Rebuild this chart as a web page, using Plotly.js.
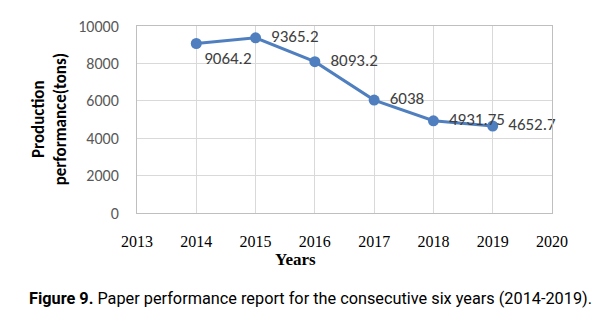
<!DOCTYPE html>
<html><head><meta charset="utf-8">
<script src="https://cdn.plot.ly/plotly-3.0.1.min.js"></script>
<style>body{margin:0;background:#fff}#chart{width:610px;height:325px}</style>
</head><body><div id="chart"></div>
<script>
const years = [2014, 2015, 2016, 2017, 2018, 2019];
const production = [9064.2, 9365.2, 8093.2, 6038, 4931.75, 4652.7];
const labelText = ['9064.2', '9365.2', '8093.2', '6038', '4931.75', '4652.7'];
const xTicks = [2013, 2014, 2015, 2016, 2017, 2018, 2019, 2020];
const yTicks = [0, 2000, 4000, 6000, 8000, 10000];

const trace = {
  x: years, y: production, type: 'scatter', mode: 'lines+markers+text',
  text: labelText,
  texttemplate: ['%{text}', '  %{text}', '  %{text}', '  %{text}', '  %{text}', '  %{text}'],
  textposition: ['bottom right','middle right','middle right','middle right','middle right','middle right'],
  textfont: {family: 'Carlito, Lato, Roboto, sans-serif', size: 17, color: '#404040'},
  line: {color: '#4f7fbf', width: 3},
  marker: {color: '#4f7fbf', size: 11},
  cliponaxis: false, hoverinfo: 'none'
};

const layout = {
  width: 610, height: 325,
  margin: {l: 137, r: 58, t: 26, b: 112},
  paper_bgcolor: '#fff', plot_bgcolor: '#fff',
  showlegend: false,
  xaxis: {
    range: [2013, 2020], tickvals: xTicks, ticktext: xTicks.map(String),
    showgrid: true, gridcolor: '#d9d9d9', gridwidth: 1,
    showline: true, linecolor: '#bfbfbf', linewidth: 1, mirror: true,
    zeroline: false, ticks: '', ticklabelstandoff: 14,
    tickfont: {family: '"Liberation Serif", "DejaVu Serif", serif', size: 16, color: '#000'}
  },
  yaxis: {
    range: [0, 10000], tickvals: yTicks, ticktext: yTicks.map(String),
    showgrid: true, gridcolor: '#d9d9d9', gridwidth: 1,
    showline: true, linecolor: '#bfbfbf', linewidth: 1, mirror: true,
    zeroline: false, ticks: '', ticklabelstandoff: 14,
    tickfont: {family: 'Carlito, Lato, Roboto, sans-serif', size: 16, color: '#595959'}
  },
  annotations: [
    {text: '<b>Production<br>performance(tons)</b>', xref: 'paper', yref: 'paper',
     x: -0.21, y: 0.5, xanchor: 'center', yanchor: 'middle', textangle: -90, showarrow: false,
     font: {family: 'Carlito, Lato, Roboto, sans-serif', size: 17, color: '#000'}},
    {text: '<b>Years</b>', xref: 'paper', yref: 'paper', x: 0.382, y: -0.25,
     xanchor: 'center', yanchor: 'middle', showarrow: false,
     font: {family: '"Liberation Serif", serif', size: 17, color: '#000'}},
    {text: '<b>Figure 9.</b> Paper performance report for the consecutive six years (2014-2019).',
     xref: 'paper', yref: 'paper', x: 0.419, y: -0.455, xanchor: 'center', yanchor: 'middle', showarrow: false,
     font: {family: 'Roboto, sans-serif', size: 16.3, color: '#000'}}
  ]
};
Plotly.newPlot('chart', [trace], layout, {displayModeBar: false, staticPlot: true});
</script></body></html>
